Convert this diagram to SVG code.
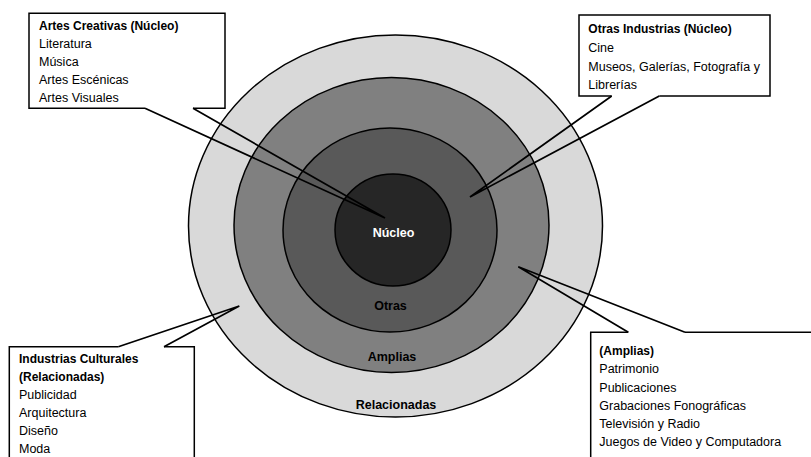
<svg xmlns="http://www.w3.org/2000/svg" width="811" height="457" viewBox="0 0 811 457">
<style>
.ring{stroke:#000;stroke-width:1.5}
.box{fill:#fff;stroke:none}
.edge{fill:none;stroke:#000;stroke-width:1.5;stroke-linejoin:miter}
.conn{fill:none;stroke:#000;stroke-width:1.7;stroke-linejoin:miter}
text{font-family:"Liberation Sans",Arial,sans-serif;font-size:12.5px;fill:#000}
.b{font-weight:bold;font-size:12px}
.lbl{font-weight:bold;text-anchor:middle;font-size:12.5px}
</style>
<rect width="811" height="457" fill="#fff"/>
<g id="ring-relacionadas">
<ellipse class="ring" cx="395.5" cy="226" rx="207" ry="191" fill="#d9d9d9"/>
<text class="lbl" x="396" y="409">Relacionadas</text>
</g>
<g id="ring-amplias">
<ellipse class="ring" cx="391.5" cy="225" rx="157.5" ry="147.5" fill="#808080"/>
<text class="lbl" x="392" y="360.5">Amplias</text>
</g>
<g id="ring-otras">
<ellipse class="ring" cx="390" cy="230" rx="107" ry="102" fill="#595959"/>
<text class="lbl" x="390.5" y="310">Otras</text>
</g>
<g id="ring-nucleo">
<ellipse class="ring" cx="393" cy="230" rx="58" ry="56" fill="#262626"/>
<text class="lbl" x="393.5" y="236.5" style="fill:#fff">Núcleo</text>
</g>
<g id="box-artes">
<rect class="box" x="29" y="13.3" width="196" height="95"/>
<polyline class="edge" points="145,108.3 29,108.3 29,13.3 225,13.3 225,108.3 193,108.3"/>
<text class="b" x="39" y="29.5">Artes Creativas (Núcleo)</text>
<text x="39" y="47.5">Literatura</text>
<text x="39" y="65.5">Música</text>
<text x="39" y="83.5">Artes Escénicas</text>
<text x="39" y="101.5">Artes Visuales</text>
</g>
<g id="box-otras">
<rect class="box" x="579" y="15" width="191" height="81"/>
<polyline class="edge" points="611.7,96 579,96 579,15 770,15 770,96 659.3,96"/>
<text class="b" x="588.3" y="33.3">Otras Industrias (Núcleo)</text>
<text x="588.3" y="52">Cine</text>
<text x="588.3" y="70.5">Museos, Galerías, Fotografía y</text>
<text x="588.3" y="88.5">Librerías</text>
</g>
<g id="box-relacionadas">
<rect class="box" x="9.3" y="346.7" width="185" height="120"/>
<polyline class="edge" points="118.3,346.7 9.3,346.7 9.3,470"/>
<polyline class="edge" points="164,346.7 194.3,346.7 194.3,470"/>
<text class="b" x="19" y="362.7">Industrias Culturales</text>
<text class="b" x="19" y="380.7">(Relacionadas)</text>
<text x="19" y="399">Publicidad</text>
<text x="19" y="417">Arquitectura</text>
<text x="19" y="435">Diseño</text>
<text x="19" y="453.3">Moda</text>
</g>
<g id="box-amplias">
<rect class="box" x="590.7" y="332.3" width="230" height="140"/>
<polyline class="edge" points="628.3,332.3 590.7,332.3 590.7,470"/>
<polyline class="edge" points="685,332.3 820,332.3"/>
<text class="b" x="599.3" y="355">(Amplias)</text>
<text x="599.3" y="373.3">Patrimonio</text>
<text x="599.3" y="391.6">Publicaciones</text>
<text x="599.3" y="410">Grabaciones Fonográficas</text>
<text x="599.3" y="428.2">Televisión y Radio</text>
<text x="599.3" y="446.4">Juegos de Video y Computadora</text>
</g>
<g id="connectors">
<polyline class="conn" points="145,108.3 385,218 193,108.3"/>
<polyline class="conn" points="611.7,96 470,197 659.3,96"/>
<polyline class="conn" points="118.3,346.7 239.3,306 164,346.7"/>
<polyline class="conn" points="628.3,332.3 518.3,266.7 685,332.3"/>
</g>
</svg>
